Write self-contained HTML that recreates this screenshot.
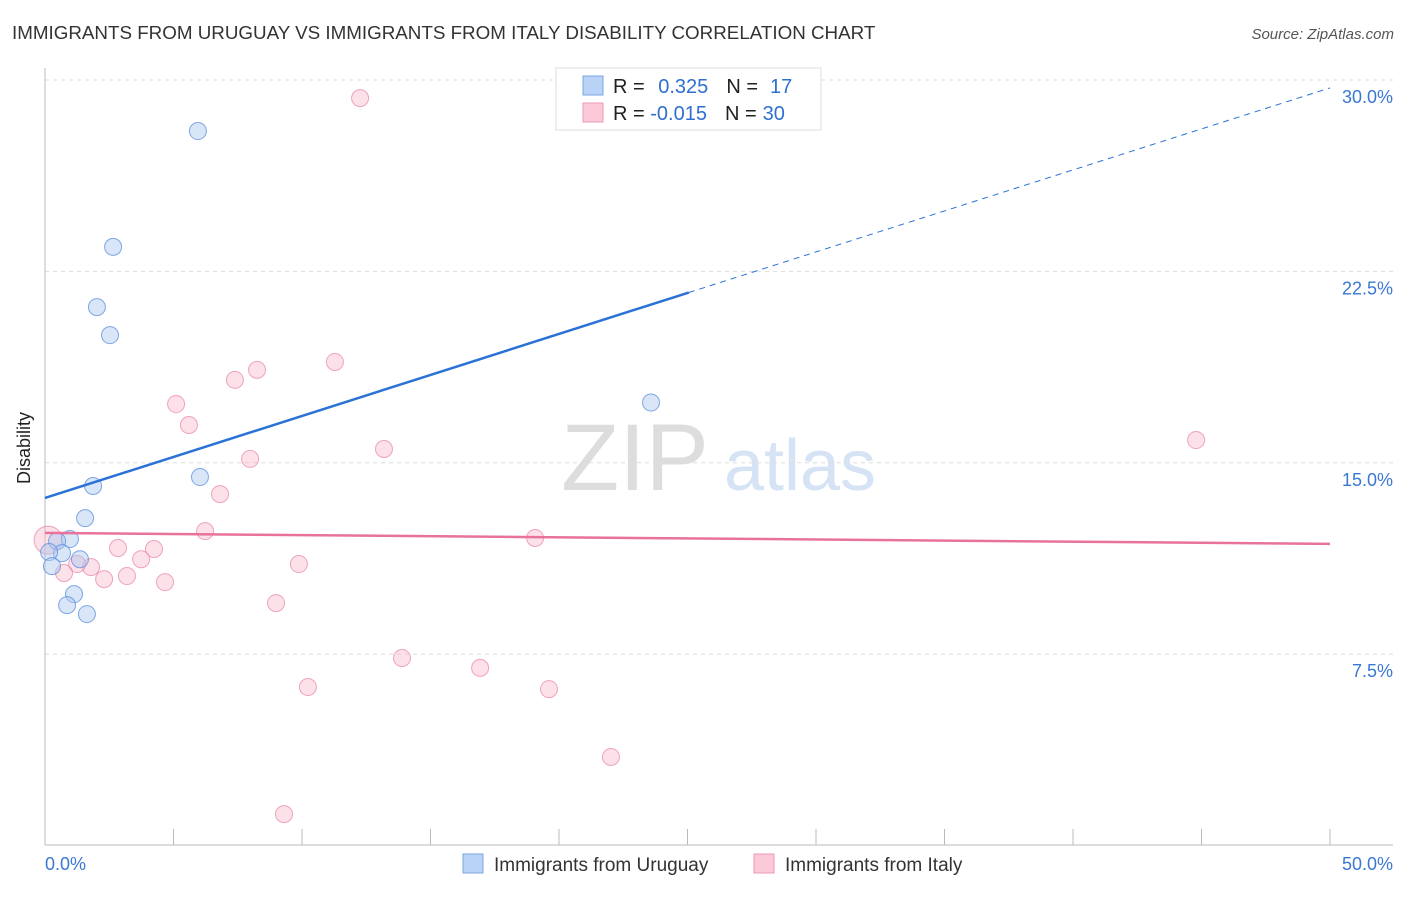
<!DOCTYPE html>
<html><head><meta charset="utf-8"><style>
body{margin:0;background:#fff;font-family:"Liberation Sans",sans-serif}
svg text{font-family:"Liberation Sans",sans-serif}
</style></head><body>
<svg width="1406" height="892" id="c">
<text x="12" y="39" font-size="18.8" fill="#333">IMMIGRANTS FROM URUGUAY VS IMMIGRANTS FROM ITALY DISABILITY CORRELATION CHART</text>
<text x="1394" y="39" font-size="15" fill="#555" font-style="italic" text-anchor="end">Source: ZipAtlas.com</text>
<text x="38" y="456" font-size="18" fill="#222" text-anchor="middle" transform="rotate(-90 30 456)">Disability</text>
<g><text x="635" y="490" font-size="95" fill="#ddd" text-anchor="middle" font-family="Liberation Serif">ZIP</text><text x="800" y="490" font-size="72" fill="#d5e3f5" text-anchor="middle">atlas</text></g>
<g id="grid"></g><g id="marks"></g>
<g>
<rect x="556" y="68" width="265" height="62" fill="#fff" stroke="#ddd"/>
<rect x="583" y="76" width="20" height="19" fill="#b8d3f5" stroke="#7aa6e0"/>
<rect x="583" y="103" width="20" height="19" fill="#fbc9d8" stroke="#ee9ab5"/>
<text x="613" y="93" font-size="20" fill="#222">R =  <tspan fill="#2f6fd0" dx="8">0.325</tspan><tspan fill="#222" dx="18">N =</tspan><tspan fill="#2f6fd0" dx="12">17</tspan></text>
<text x="613" y="120" font-size="20" fill="#222">R = <tspan fill="#2f6fd0">-0.015</tspan><tspan fill="#222" dx="18">N =</tspan><tspan fill="#2f6fd0" dx="6">30</tspan></text>
</g>
<g>
<rect x="463" y="854" width="20" height="19" fill="#b8d3f5" stroke="#7aa6e0"/>
<text x="494" y="871" font-size="19" fill="#333">Immigrants from Uruguay</text>
<rect x="754" y="854" width="20" height="19" fill="#fbc9d8" stroke="#ee9ab5"/>
<text x="785" y="871" font-size="19" fill="#333">Immigrants from Italy</text>
</g>
</svg>
<script>
const xTicks=[0,50];
const yTicks=[7.5,15,22.5,30];
const uruguayX=[5.95,2.65,2.02,2.53,23.58,6.03,1.87,1.56,0.97,0.47,0.66,0.16,1.36,0.27,1.13,0.86,1.63];
const uruguayY=[28.0,23.46,21.1,20.0,17.36,14.44,14.09,12.83,12.01,11.93,11.46,11.5,11.22,10.95,9.85,9.42,9.07];
const italyX=[12.26,11.28,8.25,7.39,5.10,5.60,13.19,44.79,7.98,6.81,6.23,19.07,0.12,2.84,4.24,3.74,9.88,1.79,1.25,0.74,3.19,2.30,4.67,8.99,13.89,16.93,10.23,19.61,22.02,9.30];
const italyY=[29.29,18.95,18.64,18.25,17.30,16.48,15.54,15.89,15.15,13.77,12.32,12.05,11.97,11.66,11.62,11.22,11.03,10.91,11.03,10.68,10.56,10.44,10.32,9.50,7.35,6.96,6.21,6.13,3.47,1.23];
const blueTrend=[13.62,29.69];
const pinkTrend=[12.25,11.82];
const X=v=>45+v/50*1285, Y=v=>845.5-v/30*765.5;
const NS='http://www.w3.org/2000/svg';
function mk(t,a,p){const e=document.createElementNS(NS,t);for(const k in a)e.setAttribute(k,a[k]);p.appendChild(e);return e;}
const g=document.getElementById('grid'),m=document.getElementById('marks');
yTicks.forEach(v=>{
 const l=mk('line',{x1:45,x2:1393,y1:Y(v),y2:Y(v),stroke:'#ddd','stroke-dasharray':'4 4'},g);
 
 
 const t=mk('text',{x:1393,y:Y(v)+23,'font-size':18,fill:'#3a78d4','text-anchor':'end'},g);t.textContent=v.toFixed(1)+'%';
 
 
});
mk('line',{x1:45,x2:45,y1:68,y2:845,stroke:'#bbb'},g);
mk('line',{x1:45,x2:1393,y1:845,y2:845,stroke:'#bbb'},g);
for(let i=0;i<=10;i++){const l=mk('line',{x1:X(i*5),x2:X(i*5),y1:829,y2:845,stroke:'#bbb'},g);
 
 }
xTicks.forEach((v,i)=>{const t=mk('text',{x:i?1393:45,y:870,'font-size':18,fill:'#3a78d4','text-anchor':i?'end':'start'},g);t.textContent=v.toFixed(1)+'%';
 
 });
italyX.forEach((x,i)=>{const c=mk('circle',{cx:X(x),cy:Y(italyY[i]),r:i==12?14:8.5,fill:'rgba(248,180,200,0.4)',stroke:'rgba(232,130,165,0.7)'},m);
 
 });
uruguayX.forEach((x,i)=>{const c=mk('circle',{cx:X(x),cy:Y(uruguayY[i]),r:8.5,fill:'rgba(170,200,240,0.45)',stroke:'rgba(90,140,220,0.75)'},m);
 
 });
const by=x=>blueTrend[0]+(blueTrend[1]-blueTrend[0])*x/50;
let l=mk('line',{x1:X(0),y1:Y(by(0)),x2:X(25.05),y2:Y(by(25.05)),stroke:'#2a72d6','stroke-width':2.5},m);


l=mk('line',{x1:X(25.05),y1:Y(by(25.05)),x2:X(50),y2:Y(by(50)),stroke:'#2a72d6','stroke-width':1,'stroke-dasharray':'6 5'},m);


l=mk('line',{x1:X(0),y1:Y(pinkTrend[0]),x2:X(50),y2:Y(pinkTrend[1]),stroke:'#e8729a','stroke-width':2.5},m);


</script>
</body></html>
